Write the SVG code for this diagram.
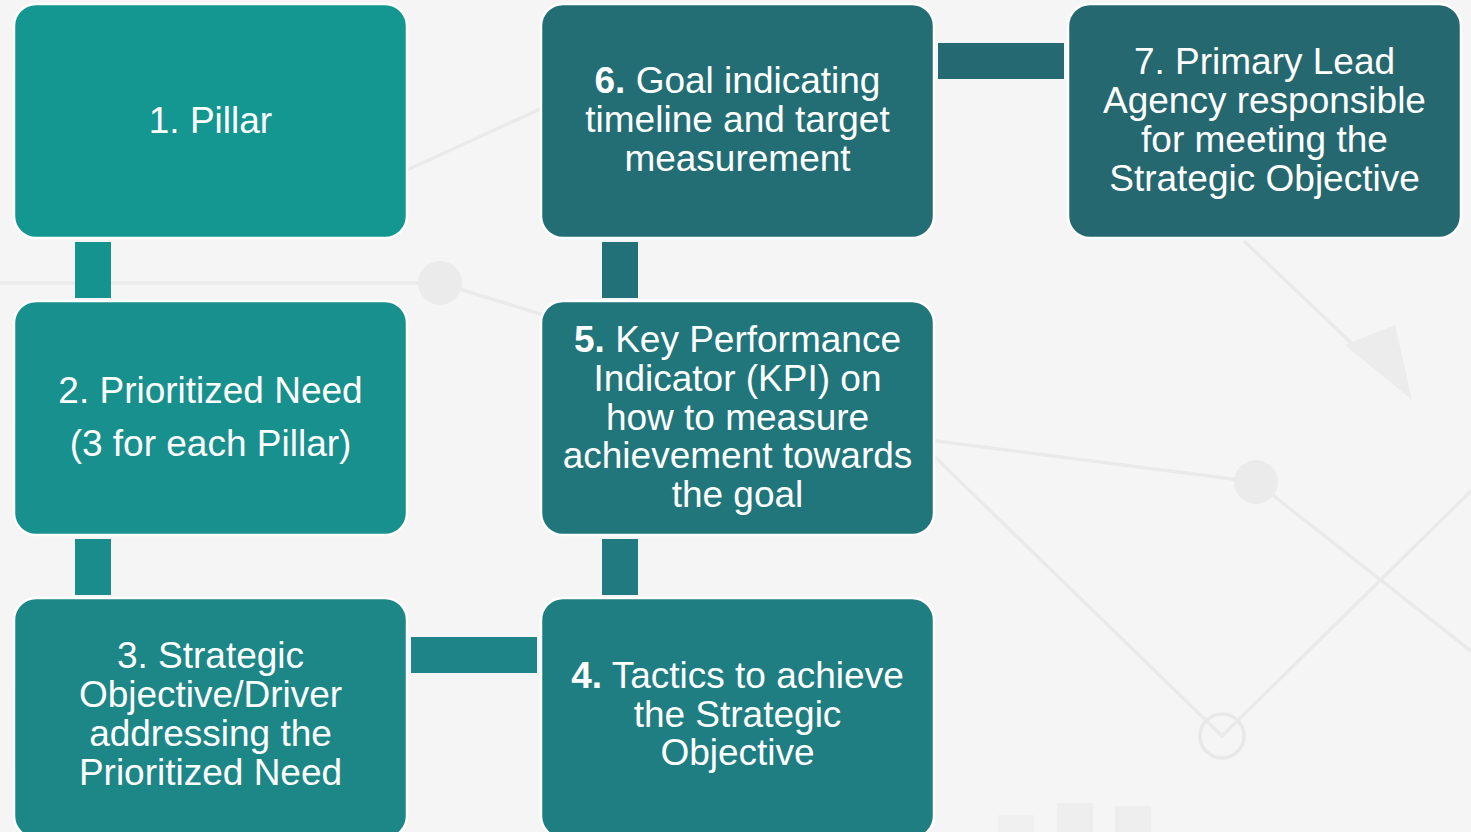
<svg xmlns="http://www.w3.org/2000/svg" width="1471" height="832" viewBox="0 0 1471 832">
  <defs>
    <style>
      .bg-line { fill: none; stroke: #eaeaea; stroke-width: 3.5; stroke-linecap: round; }
      .bg-dot { fill: #ebebeb; }
      .bg-ring { fill: none; stroke: #e8e8e8; stroke-width: 3.5; }
      .box { stroke: #ffffff; stroke-width: 2.5; }
      .lbl { font-family: "Liberation Sans", Arial, sans-serif; font-size: 37px; fill: #ffffff; text-anchor: middle; }
      .num { font-weight: bold; }
    </style>
  </defs>

  <!-- page background with faint chart decoration -->
  <rect x="0" y="0" width="1471" height="832" fill="#f5f5f5"/>
  <g id="background">
    <polyline class="bg-line" points="407,170 560,100"/>
    <polyline class="bg-line" points="0,283 440,283 560,320"/>
    <circle class="bg-dot" cx="440" cy="283" r="22"/>
    <polyline class="bg-line" points="936,441 1256,482 1471,651"/>
    <circle class="bg-dot" cx="1256" cy="482" r="22"/>
    <polyline class="bg-line" points="936,458 1222,736 1471,491"/>
    <circle class="bg-ring" cx="1222" cy="736" r="22"/>
    <line class="bg-line" x1="1245" y1="242" x2="1385" y2="375"/>
    <polygon points="1345,345 1395,325 1412,400" fill="#ececec"/>
    <rect x="1057" y="803" width="36" height="29" fill="#eeeeee"/>
    <rect x="1115" y="806" width="36" height="26" fill="#eeeeee"/>
    <rect x="998" y="815" width="36" height="17" fill="#f0f0f0"/>
  </g>

  <!-- connecting bars between steps -->
  <g id="connectors">
    <rect x="75" y="242" width="36" height="56" fill="#15938f"/>
    <rect x="75" y="539" width="36" height="56" fill="#1a8c8b"/>
    <rect x="411" y="637" width="126" height="36" fill="#1e8487"/>
    <rect x="602" y="539" width="36" height="56" fill="#207a7f"/>
    <rect x="602" y="242" width="36" height="56" fill="#227178"/>
    <rect x="938" y="43" width="126" height="36" fill="#256a72"/>
  </g>

  <g id="node1">
    <rect class="box" x="14" y="4" width="393" height="234" rx="22" fill="#149691"/>
    <text class="lbl" x="210.5" y="133">1. Pillar</text>
  </g>

  <g id="node2">
    <rect class="box" x="14" y="301" width="393" height="234" rx="22" fill="#17908e"/>
    <text class="lbl" x="210.5" y="403">2. Prioritized Need</text>
    <text class="lbl" x="210.5" y="456">(3 for each Pillar)</text>
  </g>

  <g id="node3">
    <rect class="box" x="14" y="598" width="393" height="240" rx="22" fill="#1d8788"/>
    <text class="lbl" x="210.5" y="668">3. Strategic</text>
    <text class="lbl" x="210.5" y="707">Objective/Driver</text>
    <text class="lbl" x="210.5" y="746">addressing the</text>
    <text class="lbl" x="210.5" y="785">Prioritized Need</text>
  </g>

  <g id="node4">
    <rect class="box" x="541" y="598" width="393" height="240" rx="22" fill="#1f7e82"/>
    <text class="lbl" x="737.5" y="688"><tspan class="num">4.</tspan> Tactics to achieve</text>
    <text class="lbl" x="737.5" y="727">the Strategic</text>
    <text class="lbl" x="737.5" y="765">Objective</text>
  </g>

  <g id="node5">
    <rect class="box" x="541" y="301" width="393" height="234" rx="22" fill="#21767b"/>
    <text class="lbl" x="737.5" y="352"><tspan class="num">5.</tspan> Key Performance</text>
    <text class="lbl" x="737.5" y="391">Indicator (KPI) on</text>
    <text class="lbl" x="737.5" y="430">how to measure</text>
    <text class="lbl" x="737.5" y="468">achievement towards</text>
    <text class="lbl" x="737.5" y="507">the goal</text>
  </g>

  <g id="node6">
    <rect class="box" x="541" y="4" width="393" height="234" rx="22" fill="#236e75"/>
    <text class="lbl" x="737.5" y="93"><tspan class="num">6.</tspan> Goal indicating</text>
    <text class="lbl" x="737.5" y="132">timeline and target</text>
    <text class="lbl" x="737.5" y="171">measurement</text>
  </g>

  <g id="node7">
    <rect class="box" x="1068" y="4" width="393" height="234" rx="22" fill="#266870"/>
    <text class="lbl" x="1264.5" y="74">7. Primary Lead</text>
    <text class="lbl" x="1264.5" y="113">Agency responsible</text>
    <text class="lbl" x="1264.5" y="152">for meeting the</text>
    <text class="lbl" x="1264.5" y="191">Strategic Objective</text>
  </g>
</svg>
